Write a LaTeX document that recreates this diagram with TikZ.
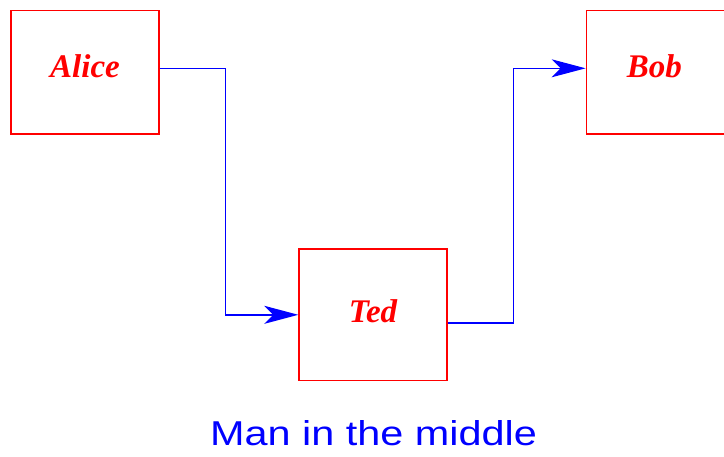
\documentclass[tikz,border=0pt]{standalone}
\usepackage{fontspec}
\setmainfont{Liberation Serif}
\newfontfamily\captionfont{Liberation Sans}
\usetikzlibrary{arrows.meta}
\begin{document}
\begin{tikzpicture}
[x=1pt,y=-1pt,
  boxdecorate/.style={shape=rectangle,draw=red,line width=1.4pt,minimum width=148pt,inner sep=0pt},%
  namedecorate/.style={anchor=base,text=red,inner sep=0pt,font=\fontsize{33}{40}\selectfont\bfseries\itshape},%
  linedecorate/.style={draw=blue,line width=1.4pt,-{Stealth[length=34pt,width=18pt,inset=9pt]}}]
\useasboundingbox (0,0) rectangle (724,456);
%% boxes and names
\foreach \nodename/\nodelabel/\x/\y/\h/\dx/\dy in {
  alice/Alice/85/72.3/123.5/0/-5, ted/Ted/373/314.8/131.7/0/-8,
  bob/Bob/660.3/72.3/123.5/-6/-5} {
  \node (\nodename) at (\x,\y) [boxdecorate,minimum height=\h pt] {};
  \node (\nodename-name) at ([xshift=\dx pt,yshift=\dy pt]\nodename.center) [namedecorate] {\nodelabel};
}
%% messages
\draw[linedecorate] ([yshift=4pt]alice.east) -- ++(66,0) |- (ted.west);
\draw[linedecorate] ([yshift=-8pt]ted.east) -- ++(66,0) |- ([yshift=4pt]bob.west);
%% caption
\node (caption) at (373.5,445.3) [anchor=base,inner sep=0pt,text=blue,
  font=\captionfont\fontsize{34.5}{40}\selectfont] {\scalebox{1.2}[1]{Man in the middle}};
\end{tikzpicture}
\end{document}
